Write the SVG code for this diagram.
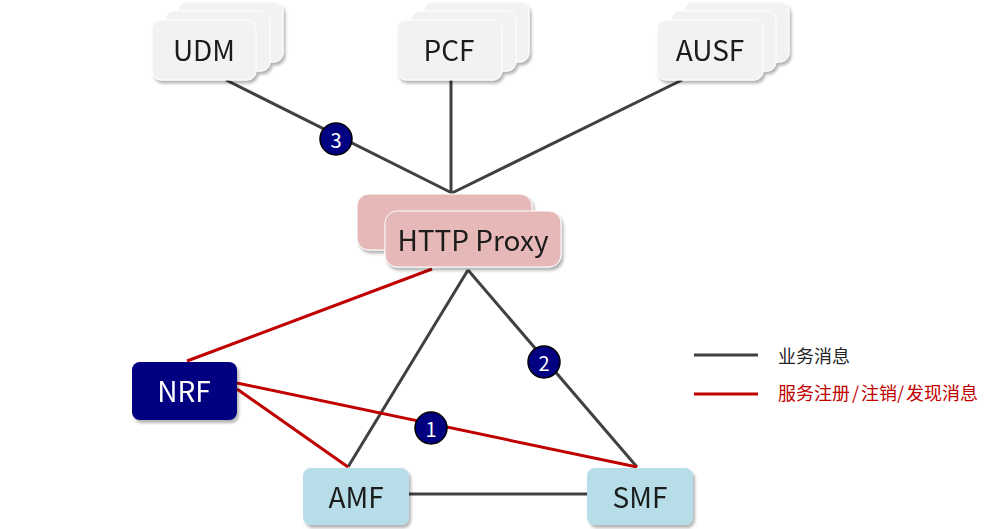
<svg xmlns="http://www.w3.org/2000/svg" width="1007" height="529" viewBox="0 0 1007 529">
<defs>
<filter id="sh" x="-10%" y="-10%" width="130%" height="140%">
<feGaussianBlur in="SourceAlpha" stdDeviation="1.5"/>
<feOffset dx="2" dy="3"/>
<feComponentTransfer><feFuncA type="linear" slope="0.3"/></feComponentTransfer>
<feMerge><feMergeNode/><feMergeNode in="SourceGraphic"/></feMerge>
</filter>
</defs>
<style>
.gray{fill:#f2f2f2;stroke:#ffffff;stroke-width:1}
.proxy{fill:#e6b9b8;stroke:#ffffff;stroke-width:1}
.nrf{fill:#000080}
.nf{fill:#b7dee8}
.lbl{font-family:"Noto Sans CJK SC","Noto Sans",sans-serif;font-size:28px;fill:#1a1a1a;text-anchor:middle;dominant-baseline:central}
.blk{stroke:#404040;stroke-width:3;fill:none}
.red{stroke:#c00000;stroke-width:3;fill:none}
.num{fill:#000080;stroke:#000000;stroke-width:1.5}
.nt{font-family:"Noto Sans CJK SC","Noto Sans",sans-serif;font-size:20px;fill:#ffffff;text-anchor:middle;dominant-baseline:central}
.leg{font-family:"Noto Sans CJK SC",sans-serif;font-size:18px;dominant-baseline:central}
</style>
<g id="connectors">
<line class="blk" x1="226" y1="80" x2="452" y2="193"/>
<line class="blk" x1="451" y1="80" x2="451" y2="193"/>
<line class="blk" x1="682" y1="80" x2="452" y2="193"/>
<line class="blk" x1="468" y1="270" x2="348" y2="467"/>
<line class="blk" x1="468" y1="270" x2="637" y2="467"/>
<line class="blk" x1="409" y1="494" x2="587" y2="494"/>
<line class="red" x1="187" y1="361" x2="432" y2="269"/>
<line class="red" x1="237" y1="389" x2="348" y2="467"/>
<line class="red" x1="237" y1="383" x2="637" y2="467"/>
</g>
<g id="UDM" filter="url(#sh)">
<rect class="gray" x="178" y="2" width="105" height="60" rx="9"/>
<rect class="gray" x="165" y="11" width="105" height="60" rx="9"/>
<rect class="gray" x="152" y="20" width="104" height="60" rx="9"/>
<text class="lbl" x="204" y="49">UDM</text>
</g>
<g id="PCF" filter="url(#sh)">
<rect class="gray" x="424" y="2" width="105" height="60" rx="9"/>
<rect class="gray" x="411" y="11" width="105" height="60" rx="9"/>
<rect class="gray" x="397" y="20" width="105" height="60" rx="9"/>
<text class="lbl" x="449" y="49">PCF</text>
</g>
<g id="AUSF" filter="url(#sh)">
<rect class="gray" x="684" y="2" width="105" height="60" rx="9"/>
<rect class="gray" x="671" y="11" width="105" height="60" rx="9"/>
<rect class="gray" x="657" y="20" width="106" height="60" rx="9"/>
<text class="lbl" x="710" y="49">AUSF</text>
</g>
<g id="HTTPProxy" filter="url(#sh)">
<rect class="proxy" x="357" y="194" width="175" height="56" rx="12"/>
<rect class="proxy" x="385" y="211" width="176" height="56" rx="12"/>
<text class="lbl" x="473" y="239">HTTP Proxy</text>
</g>
<g id="NRF" filter="url(#sh)">
<rect class="nrf" x="132" y="362" width="105" height="58" rx="8"/>
<text class="lbl" x="184" y="390" style="fill:#ffffff">NRF</text>
</g>
<g id="AMF" filter="url(#sh)">
<rect class="nf" x="303" y="468" width="106" height="57" rx="8"/>
<text class="lbl" x="356" y="496">AMF</text>
</g>
<g id="SMF" filter="url(#sh)">
<rect class="nf" x="587" y="468" width="106" height="57" rx="8"/>
<text class="lbl" x="640" y="496">SMF</text>
</g>
<g id="badge3">
<circle class="num" cx="336" cy="139" r="16"/>
<text class="nt" x="336" y="139">3</text>
</g>
<g id="badge2">
<circle class="num" cx="544" cy="362" r="16"/>
<text class="nt" x="544" y="362">2</text>
</g>
<g id="badge1">
<circle class="num" cx="431" cy="428" r="16"/>
<text class="nt" x="431" y="428">1</text>
</g>
<g id="legend">
<line class="blk" x1="694" y1="355" x2="758" y2="355"/>
<text class="leg" x="778" y="355" fill="#262626">业务消息</text>
<line class="red" x1="694" y1="394" x2="758" y2="394"/>
<text class="leg" y="392" fill="#c00000"><tspan x="778">服务注册</tspan><tspan x="852">/</tspan><tspan x="861">注销</tspan><tspan x="897">/</tspan><tspan x="906">发现消息</tspan></text>
</g>
</svg>
